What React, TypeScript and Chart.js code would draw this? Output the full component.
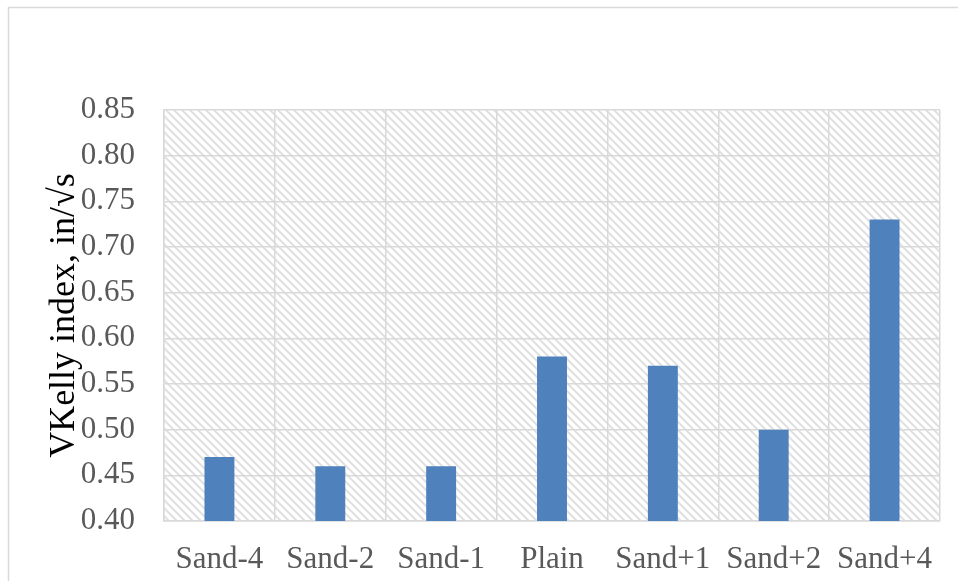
import React, { useEffect, useRef } from "react";
import { Chart, registerables } from "chart.js";

Chart.register(...registerables);

const categories = ["Sand-4", "Sand-2", "Sand-1", "Plain", "Sand+1", "Sand+2", "Sand+4"];
const kellyValues = [0.47, 0.46, 0.46, 0.58, 0.57, 0.5, 0.73];
const yMin = 0.4;
const yMax = 0.85;
const yStep = 0.05;
const yTitle = "VKelly index, in/\u221As";

function makePattern(ctx: CanvasRenderingContext2D) {
  const s = 8;
  const c = document.createElement("canvas");
  c.width = s;
  c.height = s;
  const p = c.getContext("2d")!;
  p.fillStyle = "#ffffff";
  p.fillRect(0, 0, s, s);
  p.strokeStyle = "#e0e0e0";
  p.lineWidth = 2;
  p.beginPath();
  p.moveTo(-2, -2);
  p.lineTo(s + 2, s + 2);
  p.moveTo(-2, s - 2);
  p.lineTo(2, s + 2);
  p.moveTo(s - 2, -2);
  p.lineTo(s + 2, 2);
  p.stroke();
  return ctx.createPattern(c, "repeat")!;
}

const hatchPlugin = {
  id: "hatchBg",
  beforeDraw(chart: any) {
    const { ctx, chartArea } = chart;
    ctx.save();
    ctx.fillStyle = makePattern(ctx);
    ctx.fillRect(chartArea.left, chartArea.top, chartArea.right - chartArea.left, chartArea.bottom - chartArea.top);
    ctx.restore();
  },
  afterDraw(chart: any) {
    const { ctx } = chart;
    ctx.save();
    ctx.strokeStyle = "#d9d9d9";
    ctx.lineWidth = 1.5;
    ctx.strokeRect(8.5, 7.5, 1200, 800);
    ctx.restore();
  },
};

export default function App() {
  const ref = useRef<HTMLCanvasElement>(null);
  useEffect(() => {
    const chart = new Chart(ref.current!, {
      type: "bar",
      data: {
        labels: categories,
        datasets: [
          {
            data: kellyValues,
            backgroundColor: "#4f81bd",
            borderWidth: 0,
            barPercentage: 0.27,
            categoryPercentage: 1,
          },
        ],
      },
      options: {
        responsive: false,
        animation: false,
        devicePixelRatio: 1,
        layout: { padding: { left: 0, top: 110, right: 18, bottom: 0 } },
        plugins: { legend: { display: false }, tooltip: { enabled: false } },
        scales: {
          x: {
            grid: { color: "#d9d9d9", lineWidth: 1.5, drawTicks: false, offset: true },
            border: { color: "#d9d9d9", width: 1.5 },
            ticks: {
              color: "#595959",
              padding: 20,
              font: { family: "Liberation Serif", size: 31 },
              maxRotation: 0,
              autoSkip: false,
            },
            afterFit(scale: any) {
              scale.height = 60;
            },
          },
          y: {
            min: yMin,
            max: yMax,
            grid: { color: "#d9d9d9", lineWidth: 1.5, drawTicks: false },
            border: { color: "#d9d9d9", width: 1.5 },
            ticks: {
              stepSize: yStep,
              color: "#595959",
              padding: 29,
              font: { family: "Liberation Serif", size: 31 },
              callback: (v: any) => Number(v).toFixed(2),
            },
            title: {
              display: true,
              text: yTitle,
              color: "#000000",
              font: { family: "Liberation Serif", size: 36 },
              padding: { top: 43, bottom: 0 },
            },
            afterFit(scale: any) {
              scale.width = 164;
            },
          },
        },
      },
      plugins: [hatchPlugin],
    } as any);
    return () => chart.destroy();
  }, []);
  return (
    <canvas
      ref={ref}
      width={958}
      height={581}
      style={{ position: "fixed", left: 0, top: 0, width: 958, height: 581 }}
    />
  );
}
